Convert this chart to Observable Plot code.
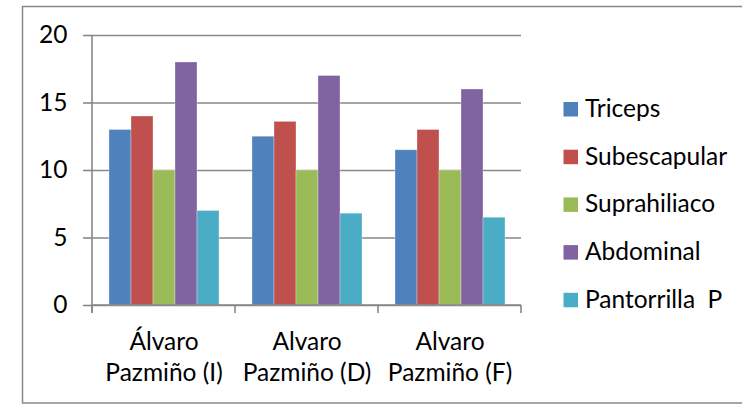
<!DOCTYPE html>
<html><head><meta charset="utf-8">
<script src="https://cdn.jsdelivr.net/npm/d3@7"></script>
<script src="https://cdn.jsdelivr.net/npm/@observablehq/plot@0.6"></script>
<style>body{margin:0;background:#fff} #chart svg{display:block}</style>
</head><body><div id="chart"></div>
<script>
const groups = ["Álvaro\nPazmiño (I)", "Alvaro\nPazmiño (D)", "Alvaro\nPazmiño (F)"];
const series = ["Triceps", "Subescapular", "Suprahiliaco", "Abdominal", "Pantorrilla  P"];
const triceps = [13, 12.5, 11.5];
const subescapular = [14, 13.6, 13];
const suprahiliaco = [10, 10, 10];
const abdominal = [18, 17, 16];
const pantorrilla = [7, 6.8, 6.5];
const colors = ["#4F81BD", "#C0504D", "#9BBB59", "#8064A2", "#4BACC6"];
const yTicks = [0, 5, 10, 15, 20];

const seriesValues = [triceps, subescapular, suprahiliaco, abdominal, pantorrilla];
const data = [];
groups.forEach((g, i) => series.forEach((s, j) => data.push({group: g, series: s, value: seriesValues[j][i]})));

const FONT = "Lato, 'Open Sans', sans-serif";
const FS = 24.5;
const GRID = "#878787";

const chart = Plot.plot({
  width: 742, height: 404,
  marginLeft: 91, marginRight: 221, marginTop: 35, marginBottom: 99,
  style: {fontFamily: FONT, fontSize: FS + "px", color: "#000", background: "#fff", overflow: "visible"},
  fx: {domain: groups, padding: 0, label: null, axis: null},
  x: {domain: series, paddingInner: 0, paddingOuter: 0.62, axis: null},
  y: {domain: [0, 20], ticks: yTicks, label: null, axis: null},
  color: {domain: series, range: colors},
  marks: [
    Plot.gridY(yTicks, {stroke: GRID, strokeOpacity: 1, strokeWidth: 1.6}),
    Plot.barY(data, {fx: "group", x: "series", y: "value", fill: "series", stroke: "#fff", strokeOpacity: 0.3, strokeWidth: 1}),
    Plot.axisY(yTicks, {tickSize: 9, tickPadding: 16, stroke: GRID, strokeWidth: 1.6, fontSize: FS, fill: "#000", label: null}),
    Plot.axisFx({anchor: "bottom", tickSize: 0, tickPadding: 22, lineHeight: 1.28, fontSize: FS, fill: "#000", label: null})
  ]
});

const svg = d3.select(chart);
const fx = chart.scale("fx");
const y = chart.scale("y");
const y0 = y.apply(0), y20 = y.apply(20);

// outer chart border
svg.append("rect").attr("x", 22.5).attr("y", 6.5).attr("width", 740).attr("height", 396.5)
  .attr("fill", "none").attr("stroke", "#898989").attr("stroke-width", 1.5);

// vertical axis line and category boundary ticks
svg.append("line").attr("x1", fx.apply(groups[0])).attr("x2", fx.apply(groups[0]))
  .attr("y1", y20).attr("y2", y0 + 8).attr("stroke", GRID).attr("stroke-width", 1.6);
const bounds = groups.map(g => fx.apply(g)).concat([fx.apply(groups[groups.length - 1]) + fx.bandwidth]);
bounds.forEach(bx => svg.append("line").attr("x1", bx).attr("x2", bx)
  .attr("y1", y0).attr("y2", y0 + 8).attr("stroke", GRID).attr("stroke-width", 1.6));
svg.append("line").attr("x1", bounds[0]).attr("x2", bounds[bounds.length - 1])
  .attr("y1", y0).attr("y2", y0).attr("stroke", GRID).attr("stroke-width", 1.6);

// legend
const color = chart.scale("color");
const lg = svg.append("g").attr("font-family", FONT).attr("font-size", FS).attr("text-anchor", "start");
color.domain.forEach((s, i) => {
  const cy = 109.5 + i * 47.7;
  lg.append("rect").attr("x", 563.5).attr("y", cy - 7.5).attr("width", 14.5).attr("height", 14.5).attr("fill", color.range[i]);
  lg.append("text").attr("x", 585).attr("y", cy).attr("dy", "0.3em").attr("fill", "#000")
    .attr("xml:space", "preserve").style("white-space", "pre").text(s);
});

document.getElementById("chart").appendChild(chart);
</script>
</body></html>
